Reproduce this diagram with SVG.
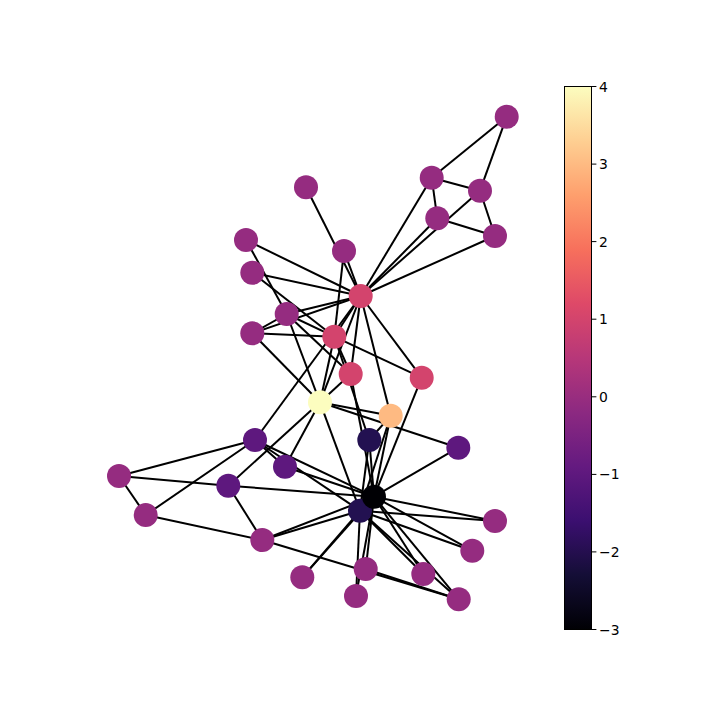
<svg xmlns="http://www.w3.org/2000/svg" width="720" height="720" viewBox="0 0 720 720">
<style>
.e{stroke:#000;stroke-width:2;fill:none;stroke-linecap:butt}
.n0{fill:#952c80}
.n1{fill:#d3446d}
.n4{fill:#fcfdbf}
.n3{fill:#feba82}
.nm1{fill:#5e187e}
.nm2{fill:#231151}
.nm3{fill:#000004}
.tk{stroke:#000;stroke-width:1}
.lb{font-family:"DejaVu Sans",sans-serif;font-size:13.9px;fill:#000}
</style>
<defs>
<linearGradient id="magma" x1="0" y1="1" x2="0" y2="0">
<stop offset="0" stop-color="#000004"/>
<stop offset="0.1" stop-color="#140e36"/>
<stop offset="0.2" stop-color="#3b0f70"/>
<stop offset="0.3" stop-color="#641a80"/>
<stop offset="0.4" stop-color="#8c2981"/>
<stop offset="0.5" stop-color="#b73779"/>
<stop offset="0.6" stop-color="#de4968"/>
<stop offset="0.7" stop-color="#f7705c"/>
<stop offset="0.8" stop-color="#fe9f6d"/>
<stop offset="0.9" stop-color="#fecf92"/>
<stop offset="1" stop-color="#fcfdbf"/>
</linearGradient>
<circle id="c" r="12"/>
</defs>
<g id="edges">
<line class="e" x1="360.7" y1="296" x2="334.3" y2="336.7"/>
<line class="e" x1="360.7" y1="296" x2="320" y2="402.3"/>
<line class="e" x1="360.7" y1="296" x2="286.7" y2="314"/>
<line class="e" x1="360.7" y1="296" x2="495" y2="236"/>
<line class="e" x1="360.7" y1="296" x2="431.7" y2="177.7"/>
<line class="e" x1="360.7" y1="296" x2="480" y2="190.7"/>
<line class="e" x1="360.7" y1="296" x2="252.3" y2="333.3"/>
<line class="e" x1="360.7" y1="296" x2="390.7" y2="415.7"/>
<line class="e" x1="360.7" y1="296" x2="437.3" y2="218.3"/>
<line class="e" x1="360.7" y1="296" x2="306" y2="187.3"/>
<line class="e" x1="360.7" y1="296" x2="246" y2="240"/>
<line class="e" x1="360.7" y1="296" x2="350.7" y2="374"/>
<line class="e" x1="360.7" y1="296" x2="344" y2="251"/>
<line class="e" x1="360.7" y1="296" x2="421.7" y2="377.7"/>
<line class="e" x1="360.7" y1="296" x2="252.3" y2="272.7"/>
<line class="e" x1="360.7" y1="296" x2="255" y2="440"/>
<line class="e" x1="334.3" y1="336.7" x2="320" y2="402.3"/>
<line class="e" x1="334.3" y1="336.7" x2="286.7" y2="314"/>
<line class="e" x1="334.3" y1="336.7" x2="252.3" y2="333.3"/>
<line class="e" x1="334.3" y1="336.7" x2="350.7" y2="374"/>
<line class="e" x1="334.3" y1="336.7" x2="344" y2="251"/>
<line class="e" x1="334.3" y1="336.7" x2="421.7" y2="377.7"/>
<line class="e" x1="334.3" y1="336.7" x2="252.3" y2="272.7"/>
<line class="e" x1="334.3" y1="336.7" x2="369.3" y2="440"/>
<line class="e" x1="320" y1="402.3" x2="286.7" y2="314"/>
<line class="e" x1="320" y1="402.3" x2="252.3" y2="333.3"/>
<line class="e" x1="320" y1="402.3" x2="390.7" y2="415.7"/>
<line class="e" x1="320" y1="402.3" x2="458.3" y2="447.7"/>
<line class="e" x1="320" y1="402.3" x2="350.7" y2="374"/>
<line class="e" x1="320" y1="402.3" x2="228.3" y2="485.7"/>
<line class="e" x1="320" y1="402.3" x2="285" y2="466.7"/>
<line class="e" x1="320" y1="402.3" x2="360" y2="510.7"/>
<line class="e" x1="286.7" y1="314" x2="252.3" y2="333.3"/>
<line class="e" x1="286.7" y1="314" x2="246" y2="240"/>
<line class="e" x1="286.7" y1="314" x2="350.7" y2="374"/>
<line class="e" x1="495" y1="236" x2="480" y2="190.7"/>
<line class="e" x1="495" y1="236" x2="437.3" y2="218.3"/>
<line class="e" x1="431.7" y1="177.7" x2="480" y2="190.7"/>
<line class="e" x1="431.7" y1="177.7" x2="437.3" y2="218.3"/>
<line class="e" x1="431.7" y1="177.7" x2="506.7" y2="116.7"/>
<line class="e" x1="480" y1="190.7" x2="506.7" y2="116.7"/>
<line class="e" x1="390.7" y1="415.7" x2="369.3" y2="440"/>
<line class="e" x1="390.7" y1="415.7" x2="360" y2="510.7"/>
<line class="e" x1="390.7" y1="415.7" x2="374" y2="496.7"/>
<line class="e" x1="458.3" y1="447.7" x2="374" y2="496.7"/>
<line class="e" x1="350.7" y1="374" x2="374" y2="496.7"/>
<line class="e" x1="495" y1="521" x2="360" y2="510.7"/>
<line class="e" x1="495" y1="521" x2="374" y2="496.7"/>
<line class="e" x1="472.3" y1="550.7" x2="360" y2="510.7"/>
<line class="e" x1="472.3" y1="550.7" x2="374" y2="496.7"/>
<line class="e" x1="302.3" y1="577.3" x2="360" y2="510.7"/>
<line class="e" x1="302.3" y1="577.3" x2="374" y2="496.7"/>
<line class="e" x1="423.3" y1="574" x2="360" y2="510.7"/>
<line class="e" x1="423.3" y1="574" x2="374" y2="496.7"/>
<line class="e" x1="356" y1="596" x2="360" y2="510.7"/>
<line class="e" x1="356" y1="596" x2="374" y2="496.7"/>
<line class="e" x1="421.7" y1="377.7" x2="374" y2="496.7"/>
<line class="e" x1="262.3" y1="540" x2="145.7" y2="515"/>
<line class="e" x1="262.3" y1="540" x2="228.3" y2="485.7"/>
<line class="e" x1="262.3" y1="540" x2="458.7" y2="599.3"/>
<line class="e" x1="262.3" y1="540" x2="360" y2="510.7"/>
<line class="e" x1="262.3" y1="540" x2="374" y2="496.7"/>
<line class="e" x1="119" y1="476" x2="145.7" y2="515"/>
<line class="e" x1="119" y1="476" x2="228.3" y2="485.7"/>
<line class="e" x1="119" y1="476" x2="255" y2="440"/>
<line class="e" x1="145.7" y1="515" x2="255" y2="440"/>
<line class="e" x1="365.7" y1="569" x2="458.7" y2="599.3"/>
<line class="e" x1="365.7" y1="569" x2="374" y2="496.7"/>
<line class="e" x1="228.3" y1="485.7" x2="374" y2="496.7"/>
<line class="e" x1="285" y1="466.7" x2="255" y2="440"/>
<line class="e" x1="285" y1="466.7" x2="374" y2="496.7"/>
<line class="e" x1="458.7" y1="599.3" x2="360" y2="510.7"/>
<line class="e" x1="458.7" y1="599.3" x2="374" y2="496.7"/>
<line class="e" x1="369.3" y1="440" x2="360" y2="510.7"/>
<line class="e" x1="369.3" y1="440" x2="374" y2="496.7"/>
<line class="e" x1="255" y1="440" x2="360" y2="510.7"/>
<line class="e" x1="255" y1="440" x2="374" y2="496.7"/>
<line class="e" x1="360" y1="510.7" x2="374" y2="496.7"/>
</g>
<g id="node0"><use href="#c" class="n1" x="360.7" y="296"/></g>
<g id="node1"><use href="#c" class="n1" x="334.3" y="336.7"/></g>
<g id="node2"><use href="#c" class="n4" x="320" y="402.3"/></g>
<g id="node3"><use href="#c" class="n0" x="286.7" y="314"/></g>
<g id="node4"><use href="#c" class="n0" x="495" y="236"/></g>
<g id="node5"><use href="#c" class="n0" x="431.7" y="177.7"/></g>
<g id="node6"><use href="#c" class="n0" x="480" y="190.7"/></g>
<g id="node7"><use href="#c" class="n0" x="252.3" y="333.3"/></g>
<g id="node8"><use href="#c" class="n3" x="390.7" y="415.7"/></g>
<g id="node9"><use href="#c" class="nm1" x="458.3" y="447.7"/></g>
<g id="node10"><use href="#c" class="n0" x="437.3" y="218.3"/></g>
<g id="node11"><use href="#c" class="n0" x="306" y="187.3"/></g>
<g id="node12"><use href="#c" class="n0" x="246" y="240"/></g>
<g id="node13"><use href="#c" class="n1" x="350.7" y="374"/></g>
<g id="node14"><use href="#c" class="n0" x="495" y="521"/></g>
<g id="node15"><use href="#c" class="n0" x="472.3" y="550.7"/></g>
<g id="node16"><use href="#c" class="n0" x="506.7" y="116.7"/></g>
<g id="node17"><use href="#c" class="n0" x="344" y="251"/></g>
<g id="node18"><use href="#c" class="n0" x="302.3" y="577.3"/></g>
<g id="node19"><use href="#c" class="n1" x="421.7" y="377.7"/></g>
<g id="node20"><use href="#c" class="n0" x="423.3" y="574"/></g>
<g id="node21"><use href="#c" class="n0" x="252.3" y="272.7"/></g>
<g id="node22"><use href="#c" class="n0" x="356" y="596"/></g>
<g id="node23"><use href="#c" class="n0" x="262.3" y="540"/></g>
<g id="node24"><use href="#c" class="n0" x="119" y="476"/></g>
<g id="node25"><use href="#c" class="n0" x="145.7" y="515"/></g>
<g id="node26"><use href="#c" class="n0" x="365.7" y="569"/></g>
<g id="node27"><use href="#c" class="nm1" x="228.3" y="485.7"/></g>
<g id="node28"><use href="#c" class="nm1" x="285" y="466.7"/></g>
<g id="node29"><use href="#c" class="n0" x="458.7" y="599.3"/></g>
<g id="node30"><use href="#c" class="nm2" x="369.3" y="440"/></g>
<g id="node31"><use href="#c" class="nm1" x="255" y="440"/></g>
<g id="node32"><use href="#c" class="nm2" x="360" y="510.7"/></g>
<g id="node33"><use href="#c" class="nm3" x="374" y="496.7"/></g>
<g id="colorbar">
<rect x="564.5" y="86.5" width="27" height="543" fill="url(#magma)" stroke="#000" stroke-width="1"/>
<line class="tk" x1="591.5" y1="86.5" x2="596.4" y2="86.5"/>
<line class="tk" x1="591.5" y1="164.1" x2="596.4" y2="164.1"/>
<line class="tk" x1="591.5" y1="241.6" x2="596.4" y2="241.6"/>
<line class="tk" x1="591.5" y1="319.2" x2="596.4" y2="319.2"/>
<line class="tk" x1="591.5" y1="396.8" x2="596.4" y2="396.8"/>
<line class="tk" x1="591.5" y1="474.4" x2="596.4" y2="474.4"/>
<line class="tk" x1="591.5" y1="551.9" x2="596.4" y2="551.9"/>
<line class="tk" x1="591.5" y1="629.5" x2="596.4" y2="629.5"/>
<text class="lb" x="599" y="91.5">4</text>
<text class="lb" x="599" y="169.1">3</text>
<text class="lb" x="599" y="246.6">2</text>
<text class="lb" x="599" y="324.2">1</text>
<text class="lb" x="599" y="401.8">0</text>
<text class="lb" x="599" y="479.4">−1</text>
<text class="lb" x="599" y="556.9">−2</text>
<text class="lb" x="599" y="634.5">−3</text>
</g>
</svg>
